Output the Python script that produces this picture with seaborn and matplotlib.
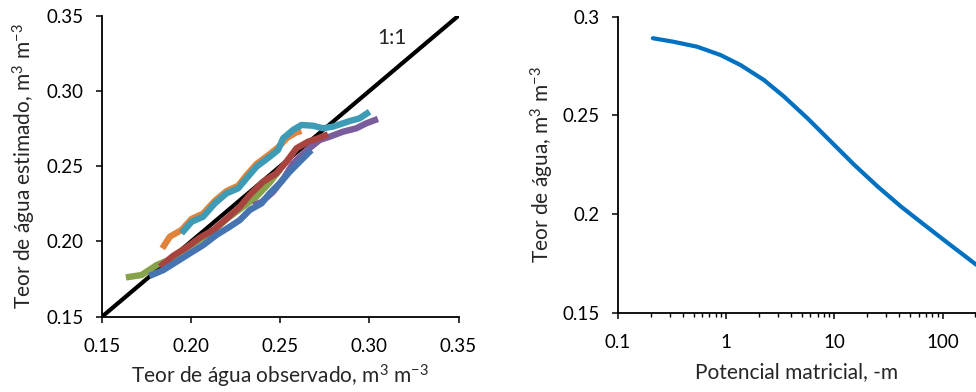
import matplotlib
matplotlib.use("Agg")
import matplotlib.pyplot as plt
import seaborn as sns
import pandas as pd
from matplotlib.ticker import FixedLocator, FuncFormatter, NullFormatter

sns.set_style("ticks")
plt.rcParams['font.family'] = ['Lato', 'DejaVu Sans']
plt.rcParams['mathtext.default'] = 'regular'

# ---- Left panel data: observed vs estimated water content ----
green_obs = [0.1634, 0.1722, 0.1806, 0.1880, 0.1960, 0.2040, 0.2120, 0.2200, 0.2280, 0.2360, 0.2440, 0.2500]
green_est = [0.1761, 0.1777, 0.1843, 0.1880, 0.1945, 0.2005, 0.2065, 0.2150, 0.2220, 0.2290, 0.2390, 0.2480]

orange_obs = [0.1838, 0.1881, 0.1946, 0.2003, 0.2067, 0.2133, 0.2199, 0.2264, 0.2311, 0.2367, 0.2441, 0.2488,
              0.2540, 0.2590, 0.2619]
orange_est = [0.1954, 0.2032, 0.2076, 0.2150, 0.2185, 0.2270, 0.2335, 0.2370, 0.2440, 0.2515, 0.2580, 0.2625,
              0.2690, 0.2725, 0.2734]

purple_obs = [0.2350, 0.2396, 0.2460, 0.2520, 0.2572, 0.2654, 0.2721, 0.2777, 0.2852, 0.2927, 0.2983, 0.3048]
purple_est = [0.2240, 0.2262, 0.2330, 0.2420, 0.2519, 0.2610, 0.2674, 0.2696, 0.2729, 0.2752, 0.2785, 0.2814]

red_obs = [0.1825, 0.1900, 0.1974, 0.2049, 0.2124, 0.2198, 0.2273, 0.2329, 0.2404, 0.2479, 0.2535, 0.2591, 0.2656, 0.2712, 0.2768]
red_est = [0.1832, 0.1905, 0.1960, 0.2025, 0.2076, 0.2150, 0.2230, 0.2309, 0.2397, 0.2453, 0.2530, 0.2619, 0.2663, 0.2685, 0.2712]

blue_obs = [0.1765, 0.1844, 0.1918, 0.1993, 0.2068, 0.2142, 0.2217, 0.2273, 0.2329, 0.2395, 0.2441, 0.2497, 0.2553, 0.2609, 0.2665, 0.2675]
blue_est = [0.1770, 0.1810, 0.1865, 0.1921, 0.1976, 0.2043, 0.2098, 0.2142, 0.2209, 0.2253, 0.2320, 0.2386, 0.2463, 0.2530, 0.2596, 0.2607]

cyan_obs = [0.1946, 0.2003, 0.2067, 0.2133, 0.2199, 0.2264, 0.2311, 0.2367, 0.2441, 0.2488, 0.2516, 0.2572,
            0.2619, 0.2684, 0.2740, 0.2796, 0.2852, 0.2889, 0.2945, 0.3001]
cyan_est = [0.2054, 0.2131, 0.2164, 0.2253, 0.2320, 0.2353, 0.2420, 0.2497, 0.2563, 0.2608, 0.2685, 0.2741,
            0.2774, 0.2769, 0.2752, 0.2763, 0.2785, 0.2800, 0.2818, 0.2862]

one_to_one = [0.15, 0.35]

# ---- Right panel data: retention curve ----
potential = [0.210, 0.326, 0.538, 0.885, 1.358, 2.237, 3.43, 5.65, 9.30, 15.3, 25.2, 41.5, 68.4, 112.7, 206.5]
theta = [0.2891, 0.2873, 0.2848, 0.2806, 0.2755, 0.2679, 0.2595, 0.2485, 0.2367, 0.2249, 0.2139, 0.2037,
         0.1944, 0.1852, 0.1742]

x_ticks_left = [0.15, 0.20, 0.25, 0.30, 0.35]
y_ticks_left = [0.15, 0.20, 0.25, 0.30, 0.35]
x_ticks_right = [0.1, 1, 10, 100]
x_ticklabels_right = ["0.1", "1", "10", "100"]
y_ticks_right = [0.15, 0.2, 0.25, 0.3]
y_ticklabels_right = ["0.15", "0.2", "0.25", "0.3"]

fig = plt.figure(figsize=(9.76, 3.92), dpi=100)
ax1 = fig.add_axes([102/976, 1 - 316.7/392, (458.5 - 102)/976, (316.7 - 15.7)/392])
ax2 = fig.add_axes([618/976, 1 - 312.7/392, (976 - 618)/976, (312.7 - 16.7)/392])

# 1:1 line
sns.lineplot(x=one_to_one, y=one_to_one, ax=ax1, color='black', linewidth=3.0, sort=False, estimator=None)

series = [
    (green_obs, green_est, '#86A34B'),
    (orange_obs, orange_est, '#E2833B'),
    (purple_obs, purple_est, '#7A5D9D'),
    (red_obs, red_est, '#A8443F'),
    (blue_obs, blue_est, '#4674B0'),
    (cyan_obs, cyan_est, '#3D9BB6'),
]
for xo, ye, c in series:
    df = pd.DataFrame({'obs': xo, 'est': ye})
    sns.lineplot(data=df, x='obs', y='est', ax=ax1, color=c, linewidth=4.6,
                 sort=False, estimator=None, solid_capstyle='butt', solid_joinstyle='round')

ax1.set_xlim(0.15, 0.35)
ax1.set_ylim(0.15, 0.35)
ax1.set_xticks(x_ticks_left)
ax1.set_yticks(y_ticks_left)
ax1.xaxis.set_major_formatter(FuncFormatter(lambda v, p: f"{v:.2f}"))
ax1.yaxis.set_major_formatter(FuncFormatter(lambda v, p: f"{v:.2f}"))
ax1.text(0.3125, 0.3354, "1:1", ha='center', va='center', fontsize=15)
ax1.set_xlabel("Teor de água observado, m$^{3}$ m$^{-3}$", fontsize=15, labelpad=6)
ax1.set_ylabel("Teor de água estimado, m$^{3}$ m$^{-3}$", fontsize=15, labelpad=6)
for s in ['top', 'right']:
    ax1.spines[s].set_visible(False)

sns.lineplot(x=potential, y=theta, ax=ax2, color='#0070C0', linewidth=3.0, sort=False, estimator=None,
             solid_joinstyle='round')
ax2.set_xscale('log')
ax2.set_xlim(0.1, 204)
ax2.set_ylim(0.15, 0.3)
ax2.set_xticks(x_ticks_right)
ax2.set_xticklabels(x_ticklabels_right)
ax2.xaxis.set_minor_locator(FixedLocator([m * 10.0**e for e in (-1, 0, 1, 2) for m in range(2, 10)]))
ax2.xaxis.set_minor_formatter(NullFormatter())
ax2.set_yticks(y_ticks_right)
ax2.set_yticklabels(y_ticklabels_right)
ax2.set_xlabel("Potencial matricial, -m", fontsize=15, labelpad=8)
ax2.set_ylabel("Teor de água, m$^{3}$ m$^{-3}$", fontsize=15, labelpad=5)
for s in ['top', 'right']:
    ax2.spines[s].set_visible(False)

for ax in (ax1, ax2):
    ax.tick_params(axis='both', which='major', labelsize=13.5, length=4, width=1.1, pad=9,
                   color='black', labelcolor='black')
    ax.tick_params(axis='x', which='major', pad=11)
    ax.tick_params(axis='both', which='minor', length=3, width=1.0, color='black')
    for s in ['left', 'bottom']:
        ax.spines[s].set_linewidth(1.3)
        ax.spines[s].set_color('black')

fig.savefig("out.png", dpi=100)
